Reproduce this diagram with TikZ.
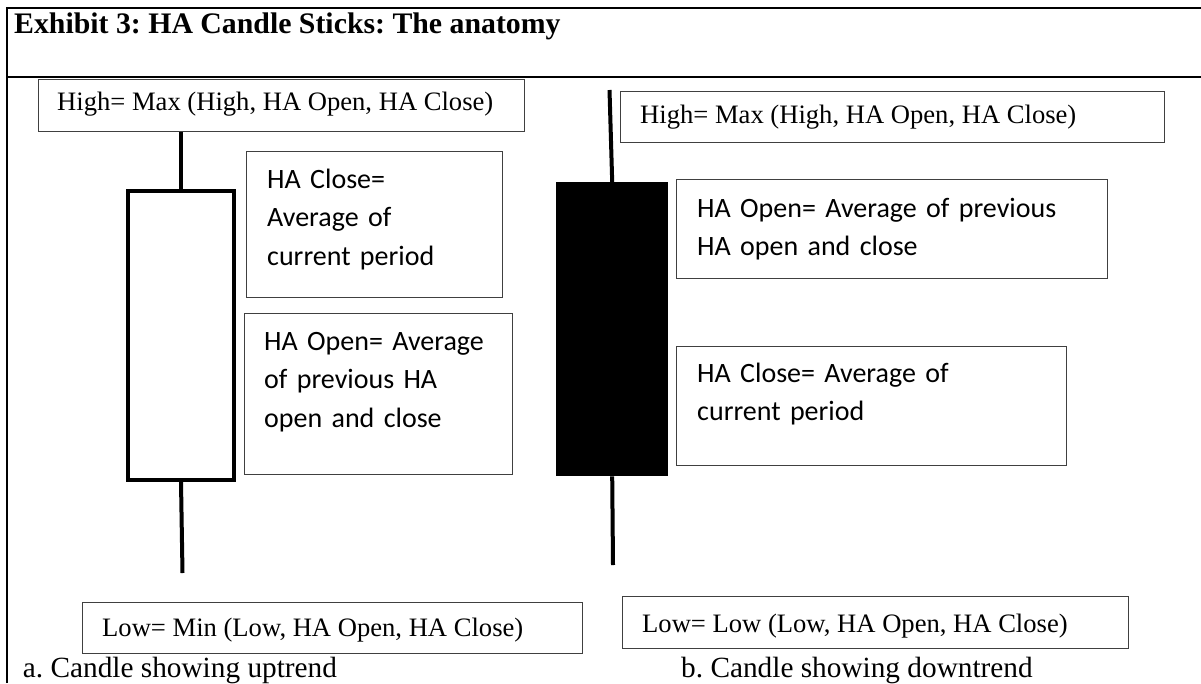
\documentclass[tikz,border=0pt]{standalone}
\usepackage{fontspec}
\setmainfont{Liberation Serif}
\newfontfamily\calibri{Carlito}
\usetikzlibrary{positioning}
\frenchspacing

\begin{document}
\begin{tikzpicture}[x=1pt,y=-1pt]
\tikzstyle{every node}+=[inner sep=0pt]
\tikzstyle{frame}=[black,line width=2.3pt]
\tikzstyle{wick}=[black,line width=4pt]
\tikzstyle{box}=[draw=black!75,line width=1.3pt,anchor=north west]
\tikzstyle{note}=[anchor=base west,align=left,font=\calibri\fontsize{28}{38.5}\selectfont]
\tikzstyle{formula}=[anchor=base west,font=\fontsize{26.6}{30}\selectfont]
\tikzstyle{caption}=[anchor=base west,font=\fontsize{29.3}{32}\selectfont]
\useasboundingbox (0,0) rectangle (1201,683);
\fill [white] (0,0) rectangle (1201,683);
\draw [frame] (7,683) -- (7,8) -- (1201,8);
\draw [frame] (7,77) -- (1201,77);
\node [anchor=base west,font=\bfseries\fontsize{29.8}{32}\selectfont] (title) at (14,33) {Exhibit 3: HA Candle Sticks: The anatomy};
\node [box,minimum width=486,minimum height=52] (highA) at (38,79) {};
\node [formula] (highAtxt) at ([shift={(19,31)}]highA.north west) {High= Max (High, HA Open, HA Close)};
\node [box,minimum width=256,minimum height=146] (closeA) at (246,151) {};
\node [note,text width=230] (closeAtxt) at ([shift={(21,37)}]closeA.north west) {HA Close=\\Average of\\current period};
\node [box,minimum width=268,minimum height=161] (openA) at (244,313) {};
\node [note,text width=240] (openAtxt) at ([shift={(20,37)}]openA.north west) {HA Open= Average\\of previous HA\\open and close};
\node [box,minimum width=500,minimum height=51] (lowAbox) at (82,602) {};
\node [formula] (lowAtxt) at ([shift={(20,34)}]lowAbox.north west) {Low= Min (Low, HA Open, HA Close)};
\node [draw=black,line width=4pt,minimum width=106,minimum height=289,anchor=north west] (bodyA) at (126,189) {};
\coordinate (lowA) at (182.5,573);
\draw [wick] (bodyA.north |- highA.south) -- (bodyA.north);
\draw [wick] (bodyA.south) -- (lowA);
\node [caption] (captionA) at (22.7,677) {a. Candle showing uptrend};
\node [box,minimum width=544,minimum height=51] (highB) at (620,91) {};
\node [formula] (highBtxt) at ([shift={(20,32)}]highB.north west) {High= Max (High, HA Open, HA Close)};
\node [box,minimum width=431,minimum height=99] (openB) at (676,179) {};
\node [note,text width=410] (openBtxt) at ([shift={(21,38)}]openB.north west) {HA Open= Average of previous\\HA open and close};
\node [box,minimum width=390,minimum height=119] (closeB) at (676,346) {};
\node [note,text width=360] (closeBtxt) at ([shift={(21,36)}]closeB.north west) {HA Close= Average of\\current period};
\node [box,minimum width=506,minimum height=52] (lowBbox) at (622,596) {};
\node [formula] (lowBtxt) at ([shift={(20,36)}]lowBbox.north west) {Low= Low (Low, HA Open, HA Close)};
\node [fill=black,minimum width=112,minimum height=294,anchor=north west] (bodyB) at (556,182) {};
\coordinate (topB) at (609.5,90);
\coordinate (lowB) at (613,565);
\draw [wick] (topB) -- (bodyB.north);
\draw [wick] (bodyB.south) -- (lowB);
\node [caption] (captionB) at (681,677) {b. Candle showing downtrend};
\end{tikzpicture}
\end{document}
